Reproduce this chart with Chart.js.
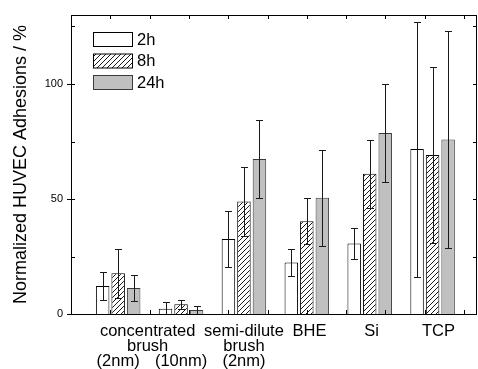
<!DOCTYPE html>
<html>
<head>
<meta charset="utf-8">
<script src="https://cdn.jsdelivr.net/npm/chart.js@4.4.0/dist/chart.umd.min.js"></script>
<style>
  html, body { margin: 0; padding: 0; background: #fff; }
</style>
</head>
<body>
<canvas id="chart" width="478" height="369"></canvas>
<script>
// Groups and where they sit on the x axis
const groups = ['concentrated brush (2nm)', 'concentrated brush (10nm)', 'semi-dilute brush (2nm)', 'BHE', 'Si', 'TCP'];
const groupPos = [1.2, 2.8, 4.4, 6.0, 7.6, 9.2];

// Labels written under the axis
const labelPos = [1.2, 1.95, 2.8, 4.4, 6.07, 7.65, 9.35];
const labelText = [['', '', '(2nm)'], ['concentrated', 'brush'], ['', '', '(10nm)'], ['semi-dilute', 'brush', '(2nm)'], 'BHE', 'Si', 'TCP'];

// Tick values
const yLabelTicks = [0, 50, 100];
const yMarkTicks = [0, 25, 50, 75, 100, 125];
const xMarkTicks = [1, 2, 3, 4, 5, 6, 7, 8, 9, 10];

// Series (mean and error)
const seriesNames = ['2h', '8h', '24h'];
const adh2h = [12.2, 2.3, 32.6, 22.4, 30.6, 71.7];
const err2h = [6.2, 3.0, 12.3, 5.7, 6.6, 55.4];
const adh8h = [17.7, 4.2, 48.9, 40.3, 61.0, 69.1];
const err8h = [10.7, 2.0, 15.2, 10.0, 14.8, 38.1];
const adh24h = [11.3, 1.7, 67.4, 50.5, 78.7, 75.9];
const err24h = [5.6, 1.6, 16.9, 21.0, 21.4, 47.0];

const FONT = '"Liberation Sans", Arial, sans-serif';

// Diagonal hatch for the 8h bars
function makeHatch() {
    const c = document.createElement('canvas');
    c.width = 5;
    c.height = 5;
    const g = c.getContext('2d');
    g.fillStyle = '#fff';
    g.fillRect(0, 0, 5, 5);
    g.strokeStyle = '#000';
    g.lineWidth = 0.9;
    g.beginPath();
    g.moveTo(0, 5); g.lineTo(5, 0);
    g.moveTo(-1, 1); g.lineTo(1, -1);
    g.moveTo(4, 6); g.lineTo(6, 4);
    g.stroke();
    return g.createPattern(c, 'repeat');
}
const hatch = makeHatch();

function points(vals) {
    return vals.map((v, i) => ({ x: groupPos[i], y: v }));
}

const errors = [err2h, err8h, err24h];

// Error bars on top of each bar
const errorBars = {
    id: 'errorBars',
    afterDatasetsDraw(chart) {
        const ctx = chart.ctx;
        const y = chart.scales.y;
        const area = chart.chartArea;
        ctx.save();
        ctx.beginPath();
        ctx.rect(area.left, area.top - 1, area.right - area.left, area.bottom - area.top + 1);
        ctx.clip();
        ctx.strokeStyle = '#1a1a1a';
        ctx.lineWidth = 1;
        chart.data.datasets.forEach((ds, i) => {
            const meta = chart.getDatasetMeta(i);
            meta.data.forEach((bar, j) => {
                const v = ds.data[j].y;
                const e = errors[i][j];
                const x = Math.round(bar.x) + 0.5;
                const hi = Math.round(y.getPixelForValue(v + e)) + 0.5;
                const lo = Math.round(y.getPixelForValue(v - e)) + 0.5;
                ctx.beginPath();
                ctx.moveTo(x, hi); ctx.lineTo(x, lo);
                ctx.moveTo(x - 3.5, hi); ctx.lineTo(x + 3.5, hi);
                ctx.moveTo(x - 3.5, lo); ctx.lineTo(x + 3.5, lo);
                ctx.stroke();
            });
        });
        ctx.restore();
    }
};

// Frame, inward tick marks and the legend
const frame = {
    id: 'frame',
    afterDraw(chart) {
        const ctx = chart.ctx;
        const a = chart.chartArea;
        const xs = chart.scales.xb;
        const ys = chart.scales.y;
        ctx.save();
        ctx.strokeStyle = '#000';
        ctx.lineWidth = 1;
        ctx.strokeRect(a.left + 0.5, a.top + 0.5, a.right - a.left - 1, a.bottom - a.top);

        ctx.beginPath();
        xMarkTicks.forEach(v => {
            const px = Math.round(xs.getPixelForValue(v)) + 0.5;
            ctx.moveTo(px, a.top); ctx.lineTo(px, a.top + 4);
            ctx.moveTo(px, a.bottom); ctx.lineTo(px, a.bottom - 4);
        });
        yMarkTicks.forEach(v => {
            const py = Math.round(ys.getPixelForValue(v)) + 0.5;
            const major = yLabelTicks.includes(v);
            ctx.moveTo(a.left - (major ? 4 : 0), py); ctx.lineTo(a.left + 4, py);
            ctx.moveTo(a.right, py); ctx.lineTo(a.right - 4, py);
        });
        ctx.stroke();

        // legend
        ctx.font = '16.5px ' + FONT;
        ctx.textBaseline = 'middle';
        chart.data.datasets.forEach((ds, i) => {
            const bx = 93.5, by = 32.5 + i * 21.5;
            ctx.fillStyle = ds.backgroundColor;
            ctx.fillRect(bx, by, 39, 14);
            ctx.strokeStyle = ds.borderColor;
            ctx.strokeRect(bx, by, 39, 14);
            ctx.fillStyle = '#000';
            ctx.fillText(ds.label, 137, by + 7.5);
        });
        ctx.restore();
    }
};

new Chart(document.getElementById('chart'), {
    type: 'bar',
    data: {
        datasets: [
            { label: seriesNames[0], data: points(adh2h), backgroundColor: '#ffffff', borderColor: '#000000' },
            { label: seriesNames[1], data: points(adh8h), backgroundColor: hatch, borderColor: '#000000' },
            { label: seriesNames[2], data: points(adh24h), backgroundColor: '#c0c0c0', borderColor: '#3a3a3a' }
        ]
    },
    options: {
        responsive: false,
        animation: false,
        layout: { padding: { top: 15, right: 1, left: 0, bottom: 0 } },
        datasets: {
            bar: {
                xAxisID: 'xb',
                borderWidth: 1,
                categoryPercentage: 0.74,
                barPercentage: 0.87
            }
        },
        plugins: {
            legend: { display: false },
            tooltip: { enabled: false }
        },
        scales: {
            xb: {
                type: 'linear',
                display: false,
                offset: false,
                min: 0,
                max: 10.33,
                afterBuildTicks: s => { s.ticks = groupPos.map(v => ({ value: v })); }
            },
            x: {
                type: 'linear',
                position: 'bottom',
                offset: false,
                min: 0,
                max: 10.33,
                grid: { display: false, drawTicks: false, offset: false },
                border: { display: false },
                afterBuildTicks: s => { s.ticks = labelPos.map(v => ({ value: v })); },
                afterFit: s => { s.height = 55; },
                ticks: {
                    autoSkip: false,
                    maxRotation: 0,
                    minRotation: 0,
                    padding: 10,
                    color: '#000',
                    font: { family: FONT, size: 16.5, lineHeight: '15px' },
                    callback: (v, i) => labelText[i]
                }
            },
            y: {
                min: 0,
                max: 130,
                grid: { display: false, drawTicks: false },
                border: { display: false },
                afterBuildTicks: s => { s.ticks = yLabelTicks.map(v => ({ value: v })); },
                afterFit: s => { s.width = 71; },
                ticks: {
                    padding: 8,
                    color: '#000',
                    font: { family: FONT, size: 11 }
                },
                title: {
                    display: true,
                    text: 'Normalized HUVEC Adhesions / %',
                    color: '#000',
                    padding: { top: 10, bottom: 0 },
                    font: { family: FONT, size: 18, weight: 'normal' }
                }
            }
        }
    },
    plugins: [errorBars, frame]
});
</script>
</body>
</html>
